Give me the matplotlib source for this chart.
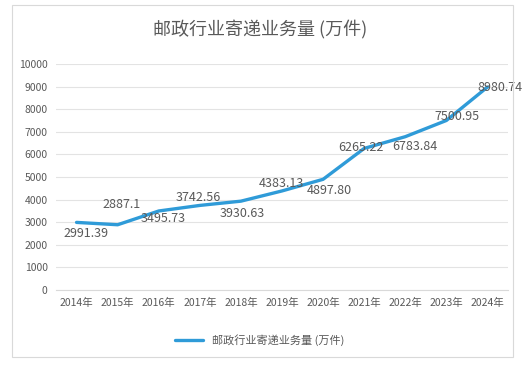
import matplotlib
matplotlib.use("Agg")
import matplotlib.pyplot as plt
from matplotlib.patches import Rectangle

plt.rcParams["font.family"] = ["Noto Sans CJK SC", "DejaVu Sans"]

# 数据
years = ["2014年", "2015年", "2016年", "2017年", "2018年", "2019年",
         "2020年", "2021年", "2022年", "2023年", "2024年"]
volumes = [2991.39, 2887.1, 3495.73, 3742.56, 3930.63, 4383.13,
           4897.80, 6265.22, 6783.84, 7500.95, 8980.74]
value_labels = ["2991.39", "2887.1", "3495.73", "3742.56", "3930.63", "4383.13",
                "4897.80", "6265.22", "6783.84", "7500.95", "8980.74"]
# 标签偏移 (像素)
label_offsets = [(9, -11), (4, 20), (4, -8), (-2, 8), (1, -12), (-1, 7),
                 (6, -11), (-3, 1), (10, -10), (11, 4), (12, 0)]

text_color = "#595959"
line_color = "#2F9BD8"

fig = plt.figure(figsize=(5.31, 3.69), dpi=100)
fig.patch.set_facecolor("white")

# 外框
fig.patches.append(Rectangle((12 / 531, 1 - 357 / 369), 501 / 531, 352 / 369,
                             transform=fig.transFigure, fill=False,
                             edgecolor="#D9D9D9", linewidth=0.8))

ax = fig.add_axes([56 / 531, 1 - 290 / 369, 452 / 531, 226 / 369])
x = list(range(len(years)))
ax.plot(x, volumes, color=line_color, linewidth=2.4, label="邮政行业寄递业务量 (万件)",
        solid_capstyle="round", solid_joinstyle="round")

for xi, v, lab, off in zip(x, volumes, value_labels, label_offsets):
    ax.annotate(lab, (xi, v), xytext=off, textcoords="offset pixels",
                ha="center", va="center", fontsize=9, color=text_color)

ax.set_xlim(-0.5, len(years) - 0.5)
ax.set_ylim(0, 10000)
ax.set_yticks(range(0, 10001, 1000))
ax.set_xticks(x)
ax.set_xticklabels(years)
ax.tick_params(axis="both", length=0, labelsize=7.5, colors=text_color)
ax.tick_params(axis="x", pad=6)
ax.tick_params(axis="y", pad=6)
ax.grid(True, axis="y", color="#E3E3E3", linewidth=0.8)
ax.set_axisbelow(True)
for side in ["top", "right", "left"]:
    ax.spines[side].set_visible(False)
ax.spines["bottom"].set_color("#D9D9D9")

fig.text(260 / 531, 1 - 30 / 369, "邮政行业寄递业务量 (万件)", ha="center", va="center",
         fontsize=13, color=text_color)

fig.legend(loc="center", bbox_to_anchor=(260 / 531, 1 - 340 / 369), frameon=False,
           fontsize=8, labelcolor=text_color, handlelength=2.5)

fig.savefig("out.png", dpi=100)
